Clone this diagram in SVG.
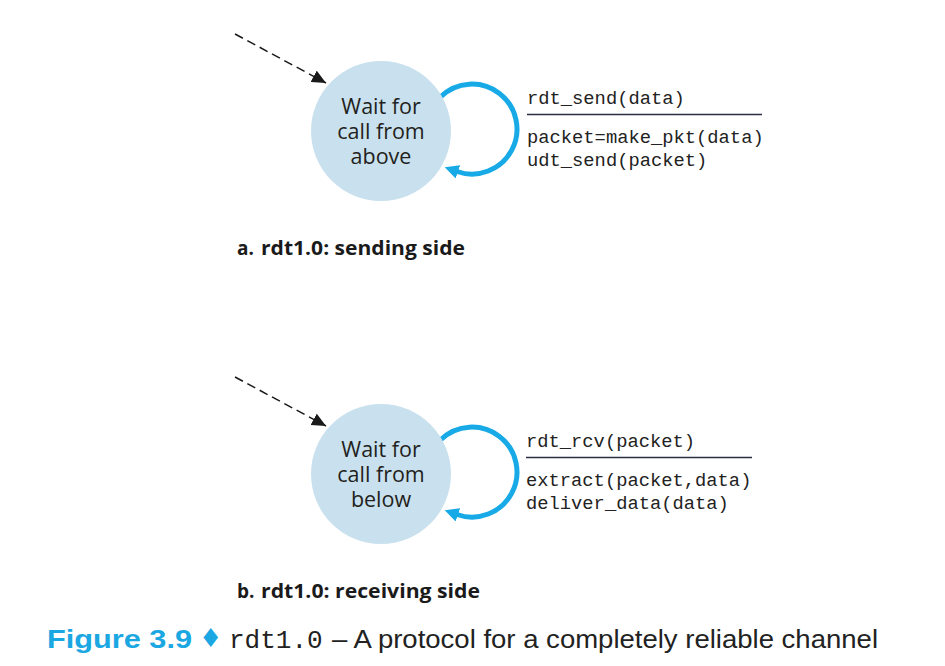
<svg xmlns="http://www.w3.org/2000/svg" width="945" height="666" viewBox="0 0 945 666">
  <defs>
    <marker id="blk" markerUnits="userSpaceOnUse" markerWidth="15" markerHeight="13" refX="14" refY="6.5" orient="auto">
      <path d="M0,0 L14,6.5 L0,13 z" fill="#1a1a1a"/>
    </marker>
    <marker id="blu" markerUnits="userSpaceOnUse" markerWidth="16" markerHeight="14" refX="1" refY="7" orient="auto">
      <path d="M0,0 L14,7 L0,14 z" fill="#17aae6"/>
    </marker>
    <style>
      .state { fill: #c9e1ee; }
      .stxt { font-family: "Open Sans", "Liberation Sans", sans-serif; font-size: 21.5px; fill: #231f20; text-anchor: middle; }
      .loop { fill: none; stroke: #17aae6; stroke-width: 5; }
      .init { fill: none; stroke: #1a1a1a; stroke-width: 1.5; stroke-dasharray: 9 5; }
      .mono { font-family: "Liberation Mono", "DejaVu Sans Mono", monospace; font-size: 18.8px; fill: #222; }
      .bar { stroke: #2b2f45; stroke-width: 1.6; }
      .cap { font-family: "Open Sans", "Liberation Sans", sans-serif; font-weight: 700; font-size: 19px; fill: #1a1a1a; }
      .fig { font-family: "Liberation Sans", "Open Sans", sans-serif; font-size: 26px; }
    </style>
  </defs>

  <g id="connectors">
    <line class="init" x1="235" y1="34" x2="326" y2="83" marker-end="url(#blk)"/>
    <path class="loop" d="M 440.7 96.7 A 45 45 0 1 1 457 171.5" marker-end="url(#blu)"/>
    <line class="init" x1="235" y1="377" x2="326" y2="426" marker-end="url(#blk)"/>
    <path class="loop" d="M 440.7 439.7 A 45 45 0 1 1 457 514.5" marker-end="url(#blu)"/>
  </g>

  <g id="state-sender">
    <circle class="state" cx="381" cy="131" r="70"/>
    <text class="stxt" x="381" y="114">Wait for</text>
    <text class="stxt" x="381" y="139">call from</text>
    <text class="stxt" x="381" y="164">above</text>
  </g>

  <g id="label-sender">
    <text class="mono" x="527" y="104">rdt_send(data)</text>
    <line class="bar" x1="527" y1="114.5" x2="762" y2="114.5"/>
    <text class="mono" x="527" y="143">packet=make_pkt(data)</text>
    <text class="mono" x="527" y="166">udt_send(packet)</text>
  </g>

  <g id="caption-a">
    <text class="cap" x="237" y="255">a.</text>
    <text class="cap" x="261" y="255" textLength="204" lengthAdjust="spacingAndGlyphs">rdt1.0: sending side</text>
  </g>

  <g id="state-receiver">
    <circle class="state" cx="381" cy="474" r="70"/>
    <text class="stxt" x="381" y="457">Wait for</text>
    <text class="stxt" x="381" y="482">call from</text>
    <text class="stxt" x="381" y="507">below</text>
  </g>

  <g id="label-receiver">
    <text class="mono" x="526" y="447">rdt_rcv(packet)</text>
    <line class="bar" x1="526" y1="457.5" x2="752" y2="457.5"/>
    <text class="mono" x="526" y="486">extract(packet,data)</text>
    <text class="mono" x="526" y="509">deliver_data(data)</text>
  </g>

  <g id="caption-b">
    <text class="cap" x="237" y="598">b.</text>
    <text class="cap" x="261" y="598" textLength="219" lengthAdjust="spacingAndGlyphs">rdt1.0: receiving side</text>
  </g>

  <g id="figure-caption">
    <text class="fig" x="47" y="648" font-weight="700" fill="#1aa7e2" textLength="145" lengthAdjust="spacingAndGlyphs">Figure 3.9</text>
    <text x="199" y="647" font-family="DejaVu Sans, sans-serif" font-size="26" fill="#1aa7e2">♦</text>
    <text x="229" y="648" font-family="Liberation Mono, monospace" font-size="26" fill="#222">rdt1.0</text>
    <text class="fig" x="332" y="648" fill="#222" textLength="546" lengthAdjust="spacingAndGlyphs">– A protocol for a completely reliable channel</text>
  </g>
</svg>
